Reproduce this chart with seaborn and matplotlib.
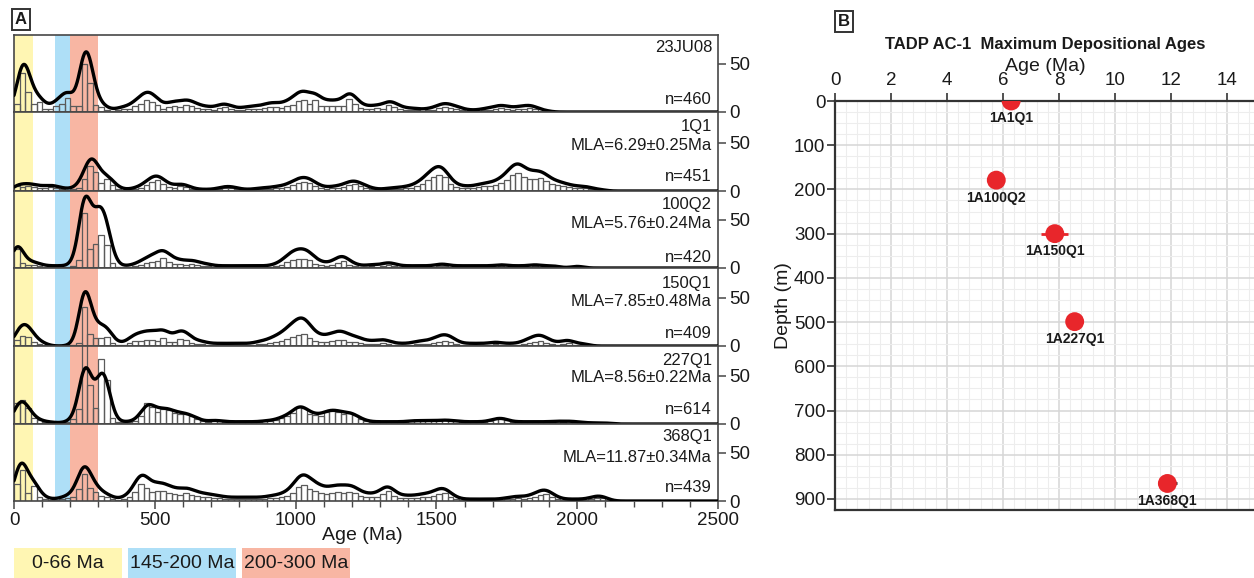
import numpy as np
import pandas as pd
import matplotlib
matplotlib.use("Agg")
import matplotlib.pyplot as plt
import seaborn as sns
from matplotlib.patches import Rectangle
from matplotlib.ticker import MultipleLocator

sns.set_theme(style="white")
plt.rcParams["font.family"] = ["Liberation Sans", "DejaVu Sans"]

# ---------------- panel A: detrital zircon age spectra ----------------
bin_width = 20  # Ma, histogram bins start at 0 Ma
samples = ["23JU08", "1Q1", "100Q2", "150Q1", "227Q1", "368Q1"]
n_grains = [460, 451, 420, 409, 614, 439]

# grain counts per 20 Ma bin, 0-2200 Ma
counts_23JU08 = [
    8, 40, 21, 8, 10, 3, 3, 6, 8, 14,
    6, 6, 50, 30, 7, 5, 2, 1, 2, 3,
    3, 6, 8, 12, 10, 7, 3, 5, 6, 5,
    7, 6, 4, 3, 3, 2, 4, 5, 3, 2,
    2, 3, 3, 3, 4, 5, 5, 4, 6, 7,
    11, 12, 8, 12, 6, 6, 6, 6, 6, 13,
    8, 4, 3, 3, 4, 3, 7, 5, 3, 2,
    2, 2, 1, 2, 2, 4, 5, 4, 3, 2,
    1, 1, 1, 2, 2, 3, 4, 3, 2, 3,
    3, 4, 3, 1, 1, 0, 0, 0, 0, 0,
    0, 0, 0, 0, 0, 0, 0, 0, 0, 0,
]
counts_1Q1 = [
    5, 4, 5, 4, 3, 3, 4, 3, 2, 1,
    2, 3, 12, 26, 20, 8, 12, 6, 2, 1,
    1, 2, 3, 6, 9, 11, 7, 4, 3, 5,
    4, 2, 1, 1, 1, 1, 2, 3, 3, 2,
    1, 1, 1, 2, 2, 2, 3, 3, 4, 6,
    8, 9, 8, 5, 3, 2, 3, 3, 4, 6,
    7, 5, 3, 2, 1, 1, 2, 2, 2, 3,
    3, 5, 7, 11, 14, 17, 14, 7, 4, 3,
    3, 3, 4, 5, 5, 6, 8, 11, 16, 19,
    14, 12, 12, 13, 10, 7, 6, 5, 4, 3,
    3, 3, 2, 1, 1, 0, 0, 0, 0, 0,
]
counts_100Q2 = [
    20, 5, 3, 3, 2, 1, 1, 1, 1, 1,
    2, 8, 57, 20, 25, 34, 24, 5, 1, 1,
    1, 2, 3, 5, 6, 7, 10, 6, 4, 4,
    3, 4, 3, 2, 2, 1, 1, 1, 1, 1,
    1, 1, 1, 1, 1, 1, 2, 3, 6, 8,
    9, 9, 8, 4, 3, 2, 3, 5, 7, 3,
    2, 1, 1, 2, 1, 2, 3, 2, 1, 1,
    1, 1, 1, 1, 1, 2, 2, 1, 1, 1,
    1, 1, 1, 1, 1, 1, 2, 1, 1, 1,
    1, 1, 2, 1, 1, 1, 1, 0, 0, 1,
    1, 0, 0, 0, 0, 0, 0, 0, 0, 0,
]
counts_150Q1 = [
    6, 10, 9, 4, 2, 1, 0, 0, 0, 0,
    1, 3, 40, 12, 8, 8, 9, 3, 1, 1,
    3, 5, 5, 6, 6, 5, 8, 4, 4, 7,
    6, 3, 2, 2, 1, 1, 1, 1, 1, 1,
    1, 1, 1, 2, 2, 3, 4, 5, 7, 9,
    11, 12, 8, 5, 4, 4, 5, 6, 6, 4,
    4, 3, 2, 2, 2, 3, 2, 1, 1, 1,
    1, 2, 2, 2, 3, 4, 5, 4, 2, 1,
    1, 1, 1, 1, 1, 2, 1, 1, 1, 1,
    2, 3, 4, 5, 3, 2, 1, 2, 3, 1,
    1, 1, 0, 0, 0, 0, 0, 0, 0, 0,
]
counts_227Q1 = [
    22, 25, 16, 6, 4, 2, 2, 1, 1, 2,
    5, 15, 84, 40, 17, 67, 45, 6, 2, 2,
    2, 3, 8, 22, 18, 12, 15, 14, 11, 10,
    10, 8, 5, 3, 2, 4, 3, 2, 2, 2,
    2, 2, 2, 2, 3, 3, 4, 6, 8, 11,
    18, 16, 10, 9, 8, 12, 13, 12, 10, 11,
    9, 5, 3, 2, 2, 2, 2, 2, 2, 2,
    3, 3, 3, 3, 3, 3, 4, 3, 3, 2,
    2, 2, 2, 2, 3, 5, 6, 4, 2, 2,
    2, 2, 2, 2, 2, 2, 3, 2, 3, 2,
    2, 1, 1, 1, 1, 1, 0, 0, 0, 0,
]
counts_368Q1 = [
    18, 32, 8, 15, 4, 2, 1, 1, 2, 3,
    4, 12, 28, 13, 9, 5, 4, 2, 1, 2,
    4, 9, 18, 13, 9, 10, 10, 8, 7, 6,
    8, 6, 5, 4, 4, 3, 3, 2, 2, 2,
    2, 2, 2, 2, 2, 3, 3, 4, 5, 8,
    14, 16, 12, 10, 8, 7, 8, 9, 8, 9,
    8, 5, 4, 4, 4, 7, 10, 5, 3, 3,
    3, 3, 4, 4, 5, 7, 8, 4, 2, 1,
    1, 1, 1, 1, 1, 1, 1, 2, 2, 3,
    2, 3, 4, 6, 7, 4, 2, 1, 1, 1,
    1, 1, 2, 3, 3, 1, 0, 0, 0, 0,
]
all_counts = [counts_23JU08, counts_1Q1, counts_100Q2,
              counts_150Q1, counts_227Q1, counts_368Q1]

# height of the highest KDE peak in each spectrum
kde_peak = [62, 33, 74, 56, 58, 39]

# age windows highlighted in every spectrum
band_ranges = [(0, 66), (145, 200), (200, 300)]
band_labels = ["0-66 Ma", "145-200 Ma", "200-300 Ma"]
band_colors = ["#fff6b3", "#aedff7", "#f8b6a3"]

# ---------------- panel B: maximum depositional ages ----------------
mda_names = ["1A1Q1", "1A100Q2", "1A150Q1", "1A227Q1", "1A368Q1"]
mda_age = [6.29, 5.76, 7.85, 8.56, 11.87]
mda_err = [0.25, 0.24, 0.48, 0.22, 0.34]
mda_depth = [0, 179, 300, 499, 865]
mda_err_color = ["#e8262b", "#e8262b", "#e8262b", "#e8262b", "#222222"]

# ---------------- layout ----------------
W, H = 1254, 578
fig = plt.figure(figsize=(W / 100, H / 100), dpi=100)


def rect(l, t, r, b):
    return [l / W, 1 - b / H, (r - l) / W, (b - t) / H]


def fx(px):
    return px / W


def fy(py):
    return 1 - py / H


spine_col = "#474747"
tick_fs = 13.5
panel_edges = [35, 112, 191, 268, 346, 424, 501]
px_per_unit = 0.97
name_y = [48, 127, 204, 283, 360, 437]
mla_y = [None, 146, 223, 302, 378, 457]
n_y = [100, 177, 257, 333, 409, 487]

ages = np.arange(0, 2501, 2.0)
h_kde = 20.0
last = len(all_counts) - 1

for i, counts in enumerate(all_counts):
    top, bot = panel_edges[i], panel_edges[i + 1]
    ax = fig.add_axes(rect(14, top, 718, bot))
    c = np.asarray(counts, dtype=float)
    n_bins = len(c)
    centers = np.arange(n_bins) * bin_width + bin_width / 2
    hist_df = pd.DataFrame({"age": centers, "count": c})

    for (lo, hi), col in zip(band_ranges, band_colors):
        ax.axvspan(lo, hi, color=col, lw=0, zorder=0)

    sns.histplot(data=hist_df, x="age", weights="count",
                 binwidth=bin_width, binrange=(0, n_bins * bin_width),
                 fill=False, element="bars", color="#5a5a5a",
                 linewidth=0.9, ax=ax, zorder=1)

    # Gaussian kernel density of the binned ages
    z = (ages[:, None] - centers[None, :]) / h_kde
    dens = (np.exp(-0.5 * z ** 2) * c).sum(axis=1) * bin_width / (np.sqrt(2 * np.pi) * h_kde)
    dens = dens * kde_peak[i] / dens.max()
    sns.lineplot(x=ages, y=dens, ax=ax, color="black", linewidth=2.4,
                 estimator=None, zorder=3)

    ax.set_xlim(0, 2500)
    ax.set_ylim(0, (bot - top) / px_per_unit)
    ax.set_ylabel("")
    ax.set_xlabel("")
    for s in ax.spines.values():
        s.set_color(spine_col)
        s.set_linewidth(1.2)
        s.set_visible(True)
    ax.yaxis.tick_right()
    ax.set_yticks([0, 50])
    ax.tick_params(axis="y", which="both", right=True, left=False,
                   direction="out", length=6, width=1.1, color=spine_col,
                   labelsize=tick_fs, pad=2, labelcolor="#1a1a1a")
    if i < last:
        ax.set_xticks([])
    else:
        ax.xaxis.set_major_locator(MultipleLocator(500))
        ax.xaxis.set_minor_locator(MultipleLocator(100))
        ax.tick_params(axis="x", which="major", bottom=True, direction="out",
                       length=6, width=1.1, color=spine_col,
                       labelsize=tick_fs, pad=2, labelcolor="#1a1a1a")
        ax.tick_params(axis="x", which="minor", bottom=True, direction="out",
                       length=4, width=1.0, color=spine_col)
        ax.set_xlabel("Age (Ma)", fontsize=14, color="#1a1a1a")
        ax.xaxis.set_label_coords(0.495, -(535 - bot) / (bot - top))
        ax.xaxis.label.set_va("center")

    fig.text(fx(712), fy(name_y[i]), samples[i], ha="right", va="center",
             fontsize=12, color="#1a1a1a")
    if i > 0:
        k = i - 1
        fig.text(fx(712), fy(mla_y[i]),
                 f"MLA={mda_age[k]:.2f}\u00b1{mda_err[k]:.2f}Ma",
                 ha="right", va="center", fontsize=12, color="#1a1a1a")
    fig.text(fx(712), fy(n_y[i]), f"n={n_grains[i]}", ha="right",
             va="center", fontsize=12, color="#1a1a1a")

# colour key under panel A
key_left = [14, 128, 242]
for lab, col, x0 in zip(band_labels, band_colors, key_left):
    fig.add_artist(Rectangle((fx(x0), fy(578)), 108 / W, 30 / H,
                             transform=fig.transFigure, facecolor=col,
                             edgecolor="none"))
    fig.text(fx(x0 + 54), fy(563), lab, ha="center", va="center",
             fontsize=14, color="#1a1a1a")

# panel letters
for letter, (px, py) in zip(["A", "B"], [(21, 19), (844, 21)]):
    fig.text(fx(px), fy(py), letter, ha="center", va="center",
             fontsize=12, fontweight="bold", color="#1a1a1a",
             bbox=dict(boxstyle="square,pad=0.18", fc="white",
                       ec="#333333", lw=1.4))

# ---------------- panel B ----------------
axb = fig.add_axes(rect(835, 101, 1255, 510))
axb.set_xlim(0, 15)
axb.set_ylim(925, 0)
axb.xaxis.set_major_locator(MultipleLocator(2))
axb.xaxis.set_minor_locator(MultipleLocator(0.4))
axb.yaxis.set_major_locator(MultipleLocator(100))
axb.yaxis.set_minor_locator(MultipleLocator(25))
axb.set_axisbelow(True)
axb.grid(which="major", color="#d6d6d6", linewidth=1.1)
axb.grid(which="minor", color="#ededed", linewidth=0.8)

axb.errorbar(mda_age, mda_depth, xerr=mda_err, fmt="none",
             ecolor=mda_err_color, elinewidth=2.0, capsize=0, zorder=2)
sns.scatterplot(x=mda_age, y=mda_depth, s=185, color="#e8262b",
                edgecolor="none", ax=axb, zorder=3, legend=False)
for name, a, d in zip(mda_names, mda_age, mda_depth):
    axb.annotate(name, (a, d), xytext=(0, -12.5), textcoords="offset points",
                 ha="center", va="center", fontsize=10, fontweight="bold",
                 color="#1a1a1a")

axb.xaxis.tick_top()
axb.xaxis.set_label_position("top")
axb.tick_params(axis="x", which="major", top=True, bottom=False,
                direction="out", length=6, width=1.2, color="#333333",
                labelsize=tick_fs, pad=2.5, labelcolor="#1a1a1a")
axb.tick_params(axis="x", which="minor", top=False, bottom=False)
axb.tick_params(axis="y", which="major", left=True, direction="out",
                length=6, width=1.2, color="#333333", labelsize=tick_fs,
                pad=1, labelcolor="#1a1a1a")
axb.tick_params(axis="y", which="minor", left=False)
for side in ["left", "top", "bottom"]:
    axb.spines[side].set_color("#333333")
    axb.spines[side].set_linewidth(1.6)
axb.spines["right"].set_visible(False)

axb.set_xlabel("Age (Ma)", fontsize=14, color="#1a1a1a")
axb.xaxis.set_label_coords(0.5, 1 + (101 - 66) / 409)
axb.xaxis.label.set_va("center")
axb.set_ylabel("Depth (m)", fontsize=14, color="#1a1a1a")
axb.yaxis.set_label_coords((783 - 835) / 420, 0.5)
axb.yaxis.label.set_va("center")
fig.text(fx(1045), fy(45), "TADP AC-1  Maximum Depositional Ages",
         ha="center", va="center", fontsize=12, fontweight="bold",
         color="#1a1a1a")

fig.savefig("out.png", dpi=100, facecolor="white")
